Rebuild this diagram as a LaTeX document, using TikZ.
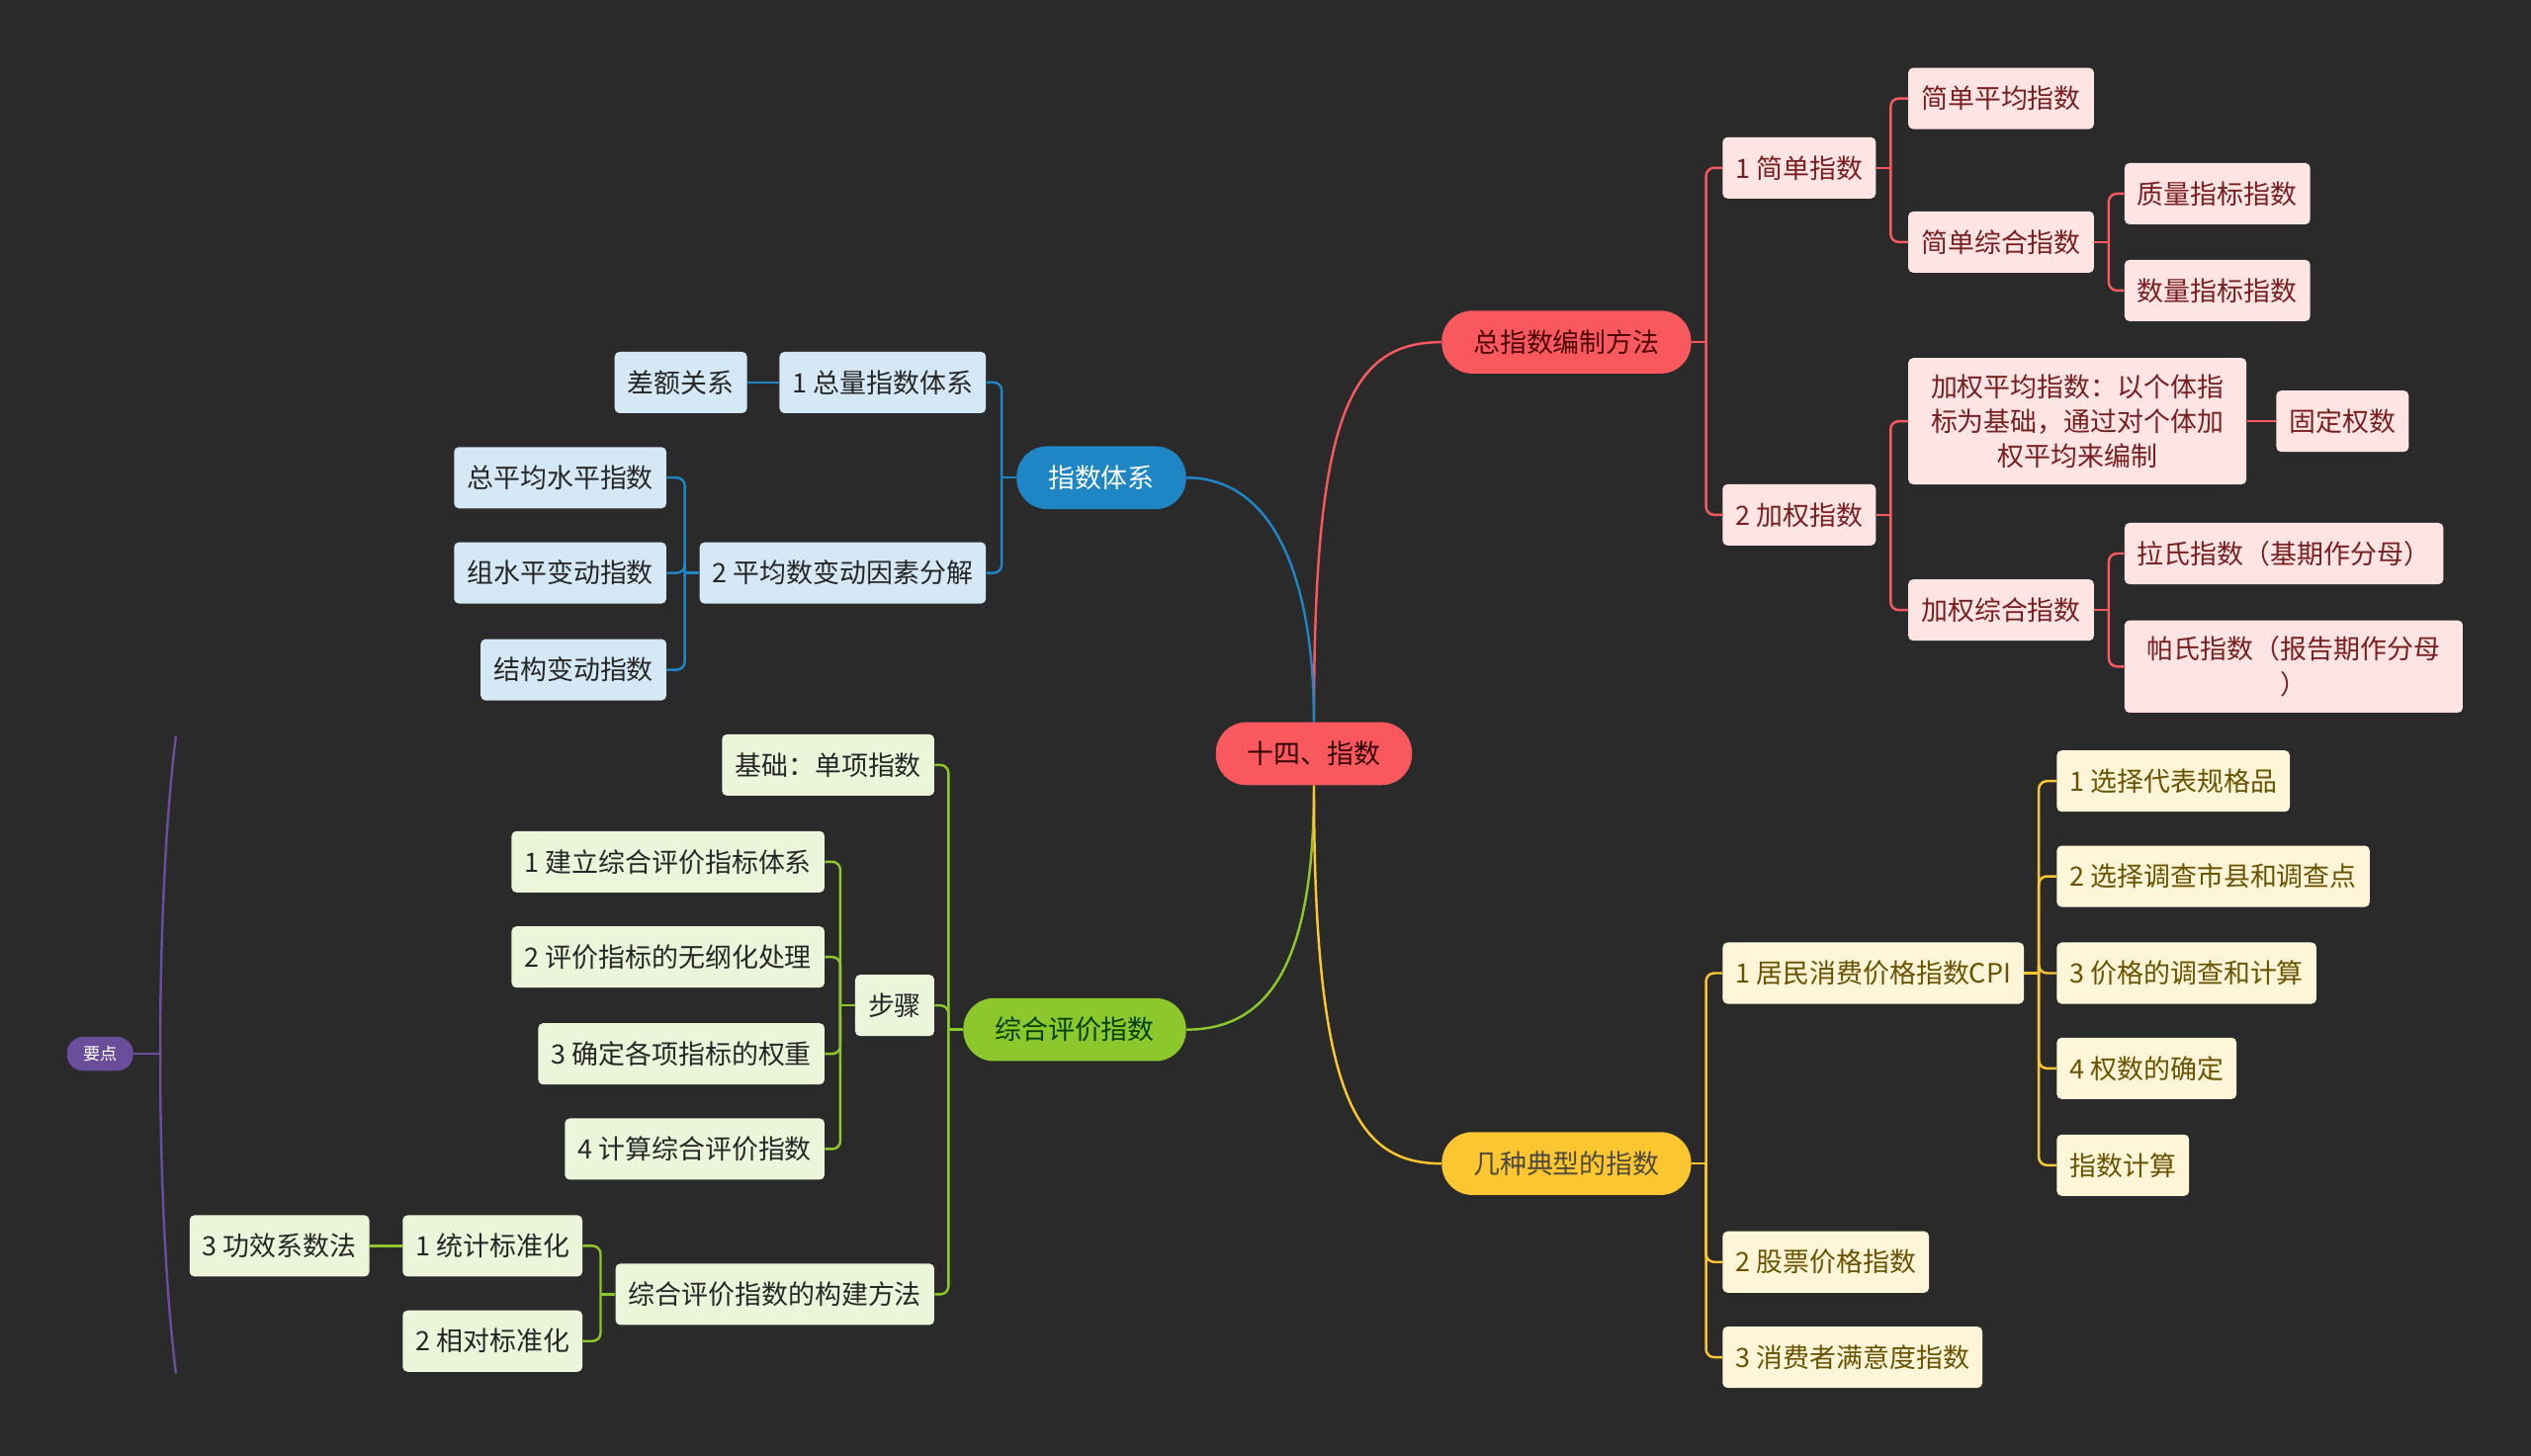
\documentclass[tikz,border=0pt]{standalone}
\usepackage{fontspec}
\newfontfamily\cjk{Noto Sans CJK SC}
\definecolor{bg}{HTML}{2A2A2A}
\definecolor{redmain}{HTML}{F9595E}
\definecolor{redlight}{HTML}{FFE4E4}
\definecolor{redtext}{HTML}{7A1F1F}
\definecolor{bluemain}{HTML}{1F86C6}
\definecolor{bluelight}{HTML}{D5E8F5}
\definecolor{greenmain}{HTML}{8CC82B}
\definecolor{greenlight}{HTML}{EBF5DA}
\definecolor{yellowmain}{HTML}{FCC630}
\definecolor{yellowlight}{HTML}{FFF6D9}
\definecolor{yellowtext}{HTML}{6B5200}
\definecolor{purplemain}{HTML}{6B4E9B}
\begin{document}
\begin{tikzpicture}[x=1pt, y=-1pt,
  every node/.style={font=\cjk\fontsize{16.5}{21.5}\selectfont, inner xsep=8pt, inner ysep=0pt, minimum height=38pt},
  mainnode/.style={rounded corners=19pt, minimum height=39pt, inner xsep=19.5pt},
  redbox/.style={fill=redlight, text=redtext, rounded corners=3pt},
  bluebox/.style={fill=bluelight, text=black!85, rounded corners=3pt},
  greenbox/.style={fill=greenlight, text=black!85, rounded corners=3pt},
  yellowbox/.style={fill=yellowlight, text=yellowtext, rounded corners=3pt},
  multi/.style={align=center, inner xsep=14pt, inner ysep=10pt},
  redline/.style={draw=redmain, line width=1.5pt},
  blueline/.style={draw=bluemain, line width=1.5pt},
  greenline/.style={draw=greenmain, line width=1.5pt},
  yellowline/.style={draw=yellowmain, line width=1.5pt},
  purpleline/.style={draw=purplemain, line width=1.5pt}]
  % Background
  \fill[bg] (0,0) rectangle (1568,902);
  \useasboundingbox (0,0) rectangle (1568,902);
  % Root and main branches
  \node[mainnode, fill=redmain, text=black!80!red] (root) at (814,467) {十四、指数};
  \node[mainnode, fill=redmain, text=red!30!black, anchor=west] (method) at (893,212) {总指数编制方法};
  \node[mainnode, fill=bluemain, text=white, anchor=east] (system) at (735,296) {指数体系};
  \node[mainnode, fill=greenmain, text=green!25!black, anchor=east] (compeval) at (735,638) {综合评价指数};
  \node[mainnode, fill=yellowmain, text=yellow!20!black, anchor=west] (typical) at (893,721) {几种典型的指数};
  \node[fill=purplemain, text=white, rounded corners=10pt, minimum height=21pt, inner xsep=10pt,
    font=\cjk\fontsize{10.5}{12}\selectfont] (keypt) at (62,653) {要点};
  % Red branch
  \node[redbox, anchor=west] (simple) at (1067,104) {1 简单指数};
  \node[redbox, anchor=west] (weighted) at (1067,319) {2 加权指数};
  \node[redbox, anchor=west] (simavg) at (1182,61) {简单平均指数};
  \node[redbox, anchor=west] (simcomp) at (1182,150) {简单综合指数};
  \node[redbox, anchor=west] (quality) at (1316,120) {质量指标指数};
  \node[redbox, anchor=west] (quantity) at (1316,180) {数量指标指数};
  \node[redbox, multi, anchor=west] (wavg) at (1182,261) {加权平均指数：以个体指\\标为基础，通过对个体加\\权平均来编制};
  \node[redbox, anchor=west] (fixedw) at (1410,261) {固定权数};
  \node[redbox, anchor=west] (wcomp) at (1182,378) {加权综合指数};
  \node[redbox, anchor=west] (laspeyres) at (1316,343) {拉氏指数（基期作分母）};
  \node[redbox, multi, anchor=west] (paasche) at (1316,413) {帕氏指数（报告期作分母\\）};
  % Blue branch
  \node[bluebox, anchor=east] (total) at (611,237) {1 总量指数体系};
  \node[bluebox, anchor=east] (diff) at (463,237) {差额关系};
  \node[bluebox, anchor=east] (avgdec) at (611,355) {2 平均数变动因素分解};
  \node[bluebox, anchor=east] (totavg) at (413,296) {总平均水平指数};
  \node[bluebox, anchor=east] (grplvl) at (413,355) {组水平变动指数};
  \node[bluebox, anchor=east] (struct) at (413,415) {结构变动指数};
  % Green branch
  \node[greenbox, anchor=east] (basis) at (579,474) {基础：单项指数};
  \node[greenbox, anchor=east] (steps) at (579,623) {步骤};
  \node[greenbox, anchor=east] (build) at (579,802) {综合评价指数的构建方法};
  \node[greenbox, anchor=east] (s1) at (511,534) {1 建立综合评价指标体系};
  \node[greenbox, anchor=east] (s2) at (511,593) {2 评价指标的无纲化处理};
  \node[greenbox, anchor=east] (s3) at (511,653) {3 确定各项指标的权重};
  \node[greenbox, anchor=east] (s4) at (511,712) {4 计算综合评价指数};
  \node[greenbox, anchor=east] (statstd) at (361,772) {1 统计标准化};
  \node[greenbox, anchor=east] (relstd) at (361,831) {2 相对标准化};
  \node[greenbox, anchor=east] (efficacy) at (229,772) {3 功效系数法};
  % Yellow branch
  \node[yellowbox, anchor=west] (cpi) at (1067,603) {1 居民消费价格指数CPI};
  \node[yellowbox, anchor=west] (stock) at (1067,782) {2 股票价格指数};
  \node[yellowbox, anchor=west] (satisfy) at (1067,841) {3 消费者满意度指数};
  \node[yellowbox, anchor=west] (c1) at (1274,484) {1 选择代表规格品};
  \node[yellowbox, anchor=west] (c2) at (1274,543) {2 选择调查市县和调查点};
  \node[yellowbox, anchor=west] (c3) at (1274,603) {3 价格的调查和计算};
  \node[yellowbox, anchor=west] (c4) at (1274,662) {4 权数的确定};
  \node[yellowbox, anchor=west] (c5) at (1274,722) {指数计算};
  % Main curves
  \draw[redline] (root.north) .. controls (814,260) and (835,212) .. (method.west);
  \draw[blueline] (root.north) .. controls (814,360) and (790,296) .. (system.east);
  \draw[greenline] (root.south) .. controls (814,590) and (790,638) .. (compeval.east);
  \draw[yellowline] (root.south) .. controls (814,680) and (840,721) .. (typical.west);
  % Purple bracket
  \coordinate (ptop) at (109,456);
  \coordinate (pmid) at (99,653);
  \coordinate (pbot) at (109,851);
  \draw[purpleline] (keypt.east) -- (pmid);
  \draw[purpleline] (ptop) .. controls (96,560) and (96,746) .. (pbot);
  % Right-side spines
  \foreach \p/\kids/\st in {method/{simple,weighted}/redline, simple/{simavg,simcomp}/redline,
      simcomp/{quality,quantity}/redline, weighted/{wavg,wcomp}/redline,
      wcomp/{laspeyres,paasche}/redline, typical/{cpi,stock,satisfy}/yellowline,
      cpi/{c1,c2,c3,c4,c5}/yellowline}{
    \coordinate (sp) at ([xshift=9pt]\p.east);
    \draw[\st] (\p.east) -- (sp);
    \foreach \k in \kids
      \draw[\st, rounded corners=5pt] (sp) |- (\k.west);
  }
  % Left-side spines
  \foreach \p/\kids/\st in {system/{total,avgdec}/blueline, avgdec/{totavg,grplvl,struct}/blueline,
      compeval/{basis,steps,build}/greenline, steps/{s1,s2,s3,s4}/greenline,
      build/{statstd,relstd}/greenline}{
    \coordinate (sp) at ([xshift=-9pt]\p.west);
    \draw[\st] (\p.west) -- (sp);
    \foreach \k in \kids
      \draw[\st, rounded corners=5pt] (sp) |- (\k.east);
  }
  % Straight links
  \draw[redline] (wavg.east) -- (fixedw.west);
  \draw[blueline] (total.west) -- (diff.east);
  \draw[greenline] (statstd.west) -- (efficacy.east);
\end{tikzpicture}
\end{document}
